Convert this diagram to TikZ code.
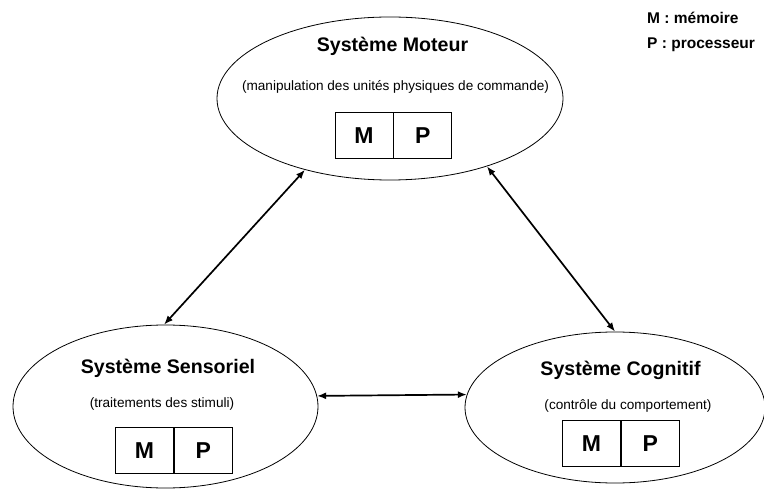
\documentclass[tikz,border=0pt]{standalone}
\usepackage{fontspec}
\setmainfont{Liberation Sans}
\usetikzlibrary{arrows.meta,positioning,shapes.geometric}

\begin{document}
\begin{tikzpicture}[x=1bp,y=-1bp,<->,>={Latex[length=9bp,width=7bp]},
  sys node/.style={ellipse,draw,line width=0.8bp,inner sep=0pt},
  title node/.style={anchor=base,inner sep=0pt,
    font=\fontsize{19.6bp}{22bp}\selectfont\bfseries},
  sub node/.style={anchor=base,inner sep=0pt,
    font=\fontsize{13.6bp}{16bp}\selectfont},
  cell/.style={rectangle,draw,line width=0.9bp,minimum width=58bp,
    minimum height=46bp,inner sep=0pt,
    font=\fontsize{23bp}{26bp}\selectfont\bfseries},
  legend/.style={anchor=base west,inner sep=0pt,
    font=\fontsize{15.5bp}{18bp}\selectfont\bfseries}]

  \useasboundingbox (0,0) rectangle (764,490);

  % les trois systemes
  \node[sys node,minimum width=346bp,minimum height=163bp] (moteur)    at (390,98.5)  {};
  \node[sys node,minimum width=305bp,minimum height=163bp] (sensoriel) at (165.5,406.5) {};
  \node[sys node,minimum width=300bp,minimum height=151bp] (cognitif)  at (615,407.5) {};

  \node[title node] (tMot) at (392.5,52)  {Système Moteur};
  \node[sub node]   (sMot) at (395.5,90.5) {(manipulation des unités physiques de commande)};
  \node[cell] (mMot) at (364,135.5) {M};
  \node[cell] (pMot) [right=0pt of mMot] {P};

  \node[title node] (tSen) at (168,373) {Système Sensoriel};
  \node[sub node]   (sSen) at (162,407) {(traitements des stimuli)};
  \node[cell] (mSen) at (144.5,450.5) {M};
  \node[cell] (pSen) [right=0pt of mSen] {P};

  \node[title node] (tCog) at (620.5,375) {Système Cognitif};
  \node[sub node]   (sCog) at (628,409) {(contrôle du comportement)};
  \node[cell] (mCog) at (591.5,443.5) {M};
  \node[cell] (pCog) [right=0pt of mCog] {P};

  % legende
  \node[legend] (lgM) at (647,24) {M : mémoire};
  \node[legend] (lgP) at (647,49) {P : processeur};

  \path[line width=1.7bp]
    (moteur.220.5) edge (sensoriel.91.7)
    (moteur.325.1) edge (cognitif.90)
    (sensoriel.4)  edge (cognitif.175.5);

\end{tikzpicture}
\end{document}
